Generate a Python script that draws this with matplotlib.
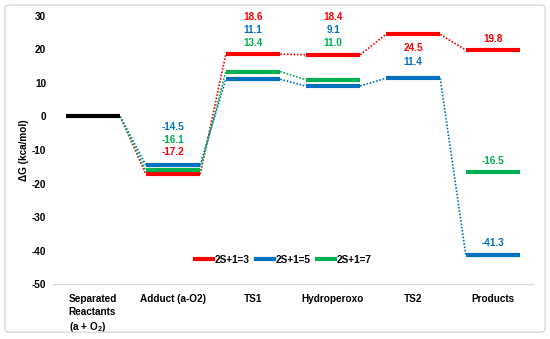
import numpy as np
import matplotlib
matplotlib.use("Agg")
import matplotlib.pyplot as plt
from matplotlib.patches import FancyBboxPatch
from matplotlib.lines import Line2D

# states along the reaction path
states = ["Separated\nReactants\n(a + O$_\\mathbf{2}$)", "Adduct (a-O2)", "TS1",
          "Hydroperoxo", "TS2", "Products"]

# free energies (kcal/mol) per spin state, nan = not computed
g_triplet = [0.0, -17.2, 18.6, 18.4, 24.5, 19.8]
g_quintet = [0.0, -14.5, 11.1, 9.1, 11.4, -41.3]
g_septet = [0.0, -16.1, 13.4, 11.0, np.nan, -16.5]

series_names = ["2S+1=3", "2S+1=5", "2S+1=7"]
series_colors = ["#FF0000", "#0070C0", "#00B050"]
series_vals = [g_triplet, g_quintet, g_septet]

# where the value labels sit (y in data units) for each state: (series idx, y)
label_layout = {
    1: [(1, -3.0), (2, -6.9), (0, -10.7)],
    2: [(0, 29.6), (1, 25.7), (2, 21.8)],
    3: [(0, 29.6), (1, 25.7), (2, 21.8)],
    4: [(0, 20.3), (1, 16.4)],
    5: [(0, 23.0), (2, -13.4), (1, -37.6)],
}

plt.rcParams['font.family'] = ['Liberation Sans', 'DejaVu Sans']
plt.rcParams['axes.unicode_minus'] = False
plt.rcParams['mathtext.fontset'] = 'custom'
plt.rcParams['mathtext.rm'] = 'Liberation Sans:bold'
plt.rcParams['mathtext.bf'] = 'Liberation Sans:bold'
fs = 7.2

fig = plt.figure(figsize=(5.5, 3.39), dpi=100)
ax = fig.add_axes([0.0964, 0.162, 0.8727, 0.791])

hw = 0.34  # half width of an energy level
x = np.arange(len(states))

for vals, col in zip(series_vals, series_colors):
    vals = np.asarray(vals, dtype=float)
    for i in range(1, len(vals)):
        if np.isnan(vals[i]):
            continue
        ax.plot([x[i] - hw, x[i] + hw], [vals[i], vals[i]], color=col,
                lw=3, solid_capstyle='butt', zorder=3)
        if not np.isnan(vals[i - 1]):
            ax.plot([x[i - 1] + hw, x[i] - hw], [vals[i - 1], vals[i]],
                    color=col, lw=1.2, ls=(0, (1, 1)), zorder=2)

# reactants level in black
ax.plot([x[0] - hw, x[0] + hw], [g_triplet[0], g_triplet[0]], color="black",
        lw=3, solid_capstyle='butt', zorder=4)

for i, items in label_layout.items():
    for s, y in items:
        ax.text(x[i], y, "%.1f" % series_vals[s][i], color=series_colors[s],
                ha='center', va='center', fontsize=fs, fontweight='bold')

ax.set_xlim(-0.5, len(states) - 0.5)
ax.set_ylim(-50, 30)
ax.set_yticks(range(-50, 31, 10))
ax.set_xticks(x)
ax.set_xticklabels(states, fontsize=fs, fontweight='bold', va='top',
                   multialignment='left', linespacing=1.35)
for lbl in ax.get_yticklabels():
    lbl.set_fontweight('bold')
    lbl.set_fontsize(fs)
ax.tick_params(length=0)
ax.tick_params(axis='x', pad=7)
ax.tick_params(axis='y', pad=5)
for side in ['left', 'right', 'top']:
    ax.spines[side].set_visible(False)
ax.spines['bottom'].set_color('#D9D9D9')
ax.set_ylabel("ΔG (kca/mol)", fontsize=fs, fontweight='bold', labelpad=2)

handles = [Line2D([], [], color=c, lw=3) for c in series_colors]
ax.legend(handles, series_names, ncol=3, frameon=False, loc='center',
          bbox_to_anchor=(0.48, (-42.7 + 50) / 80.0), handlelength=1.8,
          handletextpad=0.1, columnspacing=0.7,
          prop={'size': fs, 'weight': 'bold'})

fig.patches.append(FancyBboxPatch((0.009, 0.02), 0.982, 0.965,
                                  boxstyle="round,pad=0,rounding_size=0.01",
                                  transform=fig.transFigure, fill=False,
                                  edgecolor='#D9D9D9', lw=1))

fig.savefig("out.png", dpi=100)
